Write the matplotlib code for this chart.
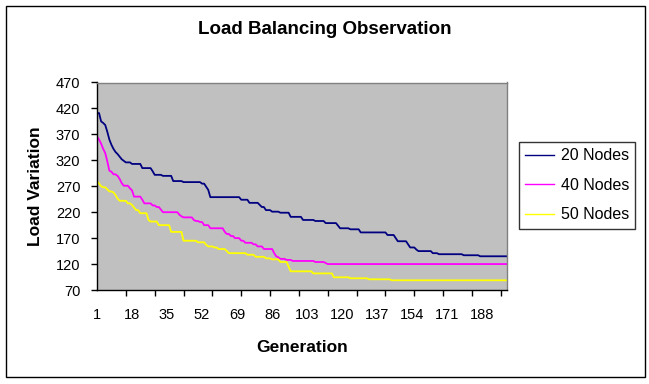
import numpy as np
import matplotlib
matplotlib.use('Agg')
import matplotlib.pyplot as plt
from matplotlib.patches import Rectangle

plt.rcParams['font.family'] = 'Liberation Sans'

# Generations on the x axis
generations = np.arange(1, 201)

# Each series is a step curve: a load level and how many generations it lasts
nodes20_levels = [411, 395, 392, 388, 375, 360, 350, 342, 336, 332, 327, 322, 319, 316, 313,
                  305, 299, 292, 290, 280, 278, 275, 269, 263, 249, 244, 238, 234, 230, 224,
                  221, 219, 211, 205, 203, 199, 194, 189, 187, 181, 176, 170, 164, 158, 152,
                  148, 145, 141, 139, 137, 135]
nodes20_runs = [2, 1, 1, 1, 1, 1, 1, 1, 1, 1, 1, 1, 1, 3, 5,
                5, 1, 4, 5, 5, 9, 2, 1, 1, 15, 4, 5, 1, 2, 3,
                4, 5, 6, 6, 5, 6, 1, 5, 5, 13, 4, 1, 5, 1, 3,
                1, 7, 3, 12, 8, 14]

nodes40_levels = [366, 360, 352, 342, 334, 318, 300, 298, 293, 290, 284, 276, 271, 266, 262,
                  250, 244, 237, 233, 230, 225, 220, 215, 212, 210, 205, 203, 201, 195, 189,
                  182, 178, 174, 170, 165, 161, 158, 154, 149, 141, 135, 133, 130, 128, 126,
                  124, 122, 120]
nodes40_runs = [1, 1, 1, 1, 1, 1, 1, 1, 2, 1, 1, 1, 3, 1, 1,
                4, 1, 4, 2, 2, 1, 8, 1, 1, 5, 1, 2, 2, 3, 7,
                1, 2, 2, 3, 2, 4, 2, 3, 5, 1, 1, 1, 3, 3, 11,
                5, 1, 88]

nodes50_levels = [280, 275, 270, 268, 264, 260, 258, 253, 246, 242, 237, 234, 229, 224, 218,
                  205, 202, 195, 182, 165, 162, 157, 154, 152, 149, 145, 141, 138, 134, 131,
                  129, 124, 115, 106, 102, 94.5, 92.6, 90.6, 88.7]
nodes50_runs = [1, 1, 1, 2, 1, 2, 1, 1, 1, 4, 2, 1, 1, 2, 4,
                1, 4, 6, 6, 7, 4, 1, 3, 2, 4, 1, 9, 4, 5, 3,
                4, 4, 1, 11, 10, 8, 9, 11, 57]

load20 = np.repeat(nodes20_levels, nodes20_runs)
load40 = np.repeat(nodes40_levels, nodes40_runs)
load50 = np.repeat(nodes50_levels, nodes50_runs)

series_names = ['20 Nodes', '40 Nodes', '50 Nodes']
series_colors = ['#000080', '#FF00FF', '#FFFF00']

x_labels = [1, 18, 35, 52, 69, 86, 103, 120, 137, 154, 171, 188]
y_ticks = [70, 120, 170, 220, 270, 320, 370, 420, 470]

W, H = 649, 384
fig = plt.figure(figsize=(W / 100, H / 100), dpi=100)
fig.patch.set_facecolor('white')

# plot area in pixel terms
ax = fig.add_axes([97 / W, 1 - 290 / H, 410 / W, 207.5 / H])
ax.set_facecolor('#C0C0C0')

for vals, name, col in zip([load20, load40, load50], series_names, series_colors):
    ax.plot(generations, vals, color=col, lw=1.3, label=name)

ax.set_xlim(1, 200)
ax.set_ylim(70, 470)
ax.set_yticks(y_ticks)
ax.set_xticks(x_labels)
ax.set_xticks(np.arange(1, 201, 14), minor=True)
ax.tick_params(axis='x', which='major', length=0, pad=13, labelsize=10.5)
ax.tick_params(axis='x', which='minor', length=4, width=1, direction='out')
ax.tick_params(axis='y', length=4, width=1, direction='out', pad=8, labelsize=10.5)

for side in ['left', 'bottom']:
    ax.spines[side].set_color('black')
    ax.spines[side].set_linewidth(1)
for side in ['top', 'right']:
    ax.spines[side].set_color('#808080')
    ax.spines[side].set_linewidth(1)

ax.set_xlabel('Generation', fontsize=12.5, fontweight='bold')
ax.xaxis.label.set_va('center')
ax.xaxis.set_label_coords(0.5, (290 - 348) / 207.5)
ax.set_ylabel('Load Variation', fontsize=12.5, fontweight='bold')
ax.yaxis.label.set_va('center')
ax.yaxis.set_label_coords((35 - 97) / 410, 0.5)

fig.text(0.5, 1 - 30 / H, 'Load Balancing Observation', ha='center', va='center',
         fontsize=13.5, fontweight='bold')

leg = fig.legend(loc='upper left', bbox_to_anchor=(519 / W, 1 - 142 / H), borderaxespad=0,
                 fontsize=11.5, frameon=True, fancybox=False, edgecolor='black',
                 handlelength=1.8, handletextpad=0.4, labelspacing=0.9, borderpad=0.4)
leg.get_frame().set_linewidth(1)
for line in leg.get_lines():
    line.set_linewidth(1)

# outer chart border
fig.patches.append(Rectangle((6 / W, 7 / H), 639 / W, 371 / H, transform=fig.transFigure,
                             fill=False, edgecolor='black', lw=1))

fig.savefig('out.png', dpi=100)
